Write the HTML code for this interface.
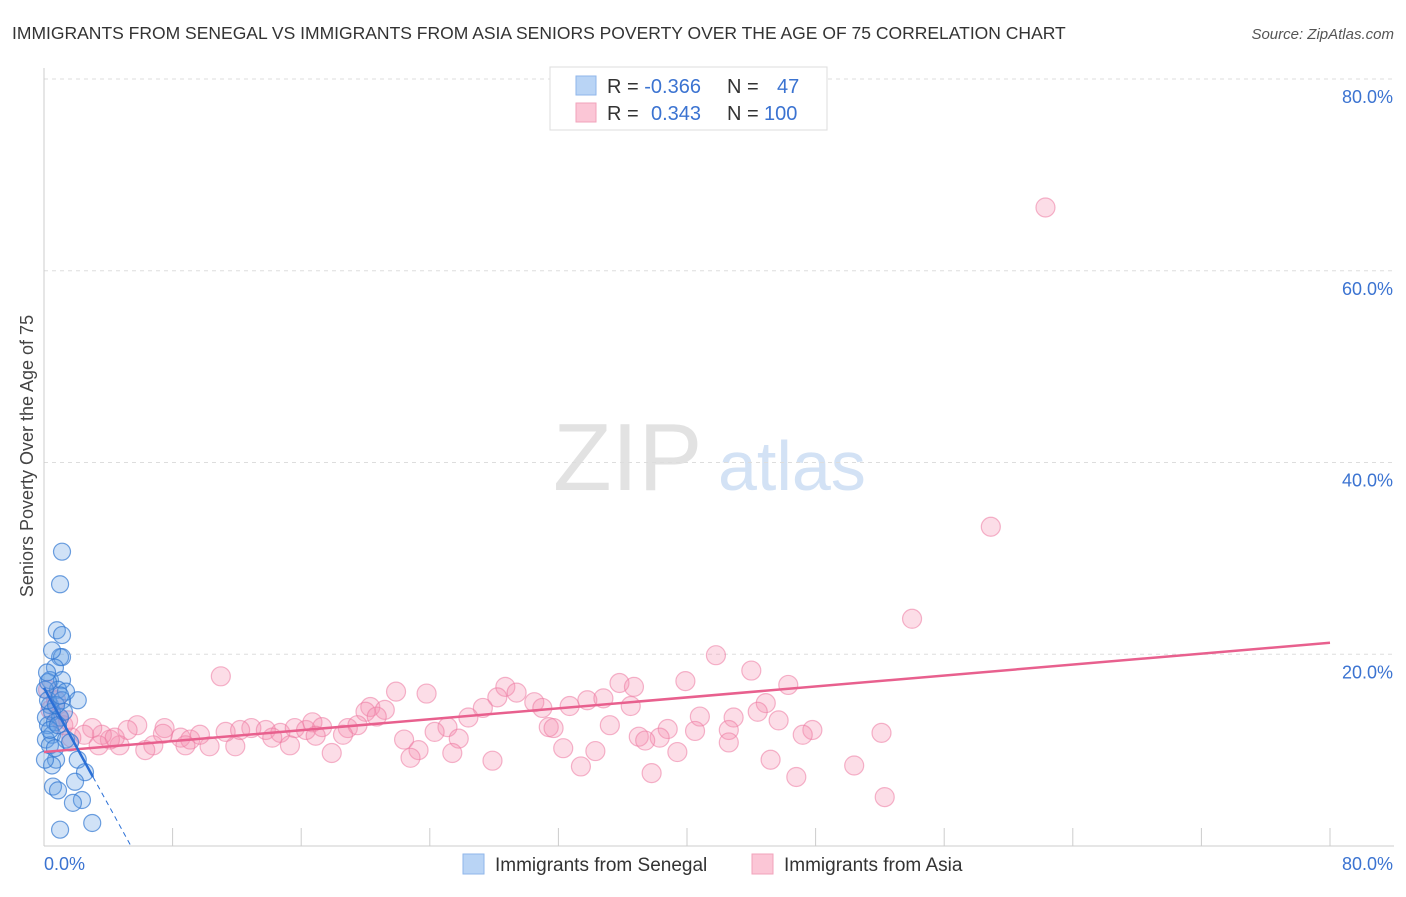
<!DOCTYPE html>
<html><head><meta charset="utf-8"><style>
body{margin:0;background:#fff;font-family:"Liberation Sans",sans-serif}
svg text{font-family:"Liberation Sans",sans-serif}
</style></head><body>
<svg id="chart" width="1406" height="892" xmlns="http://www.w3.org/2000/svg">
<text x="12" y="39" font-size="17.5" fill="#333">IMMIGRANTS FROM SENEGAL VS IMMIGRANTS FROM ASIA SENIORS POVERTY OVER THE AGE OF 75 CORRELATION CHART</text>
<text x="1394" y="39" font-size="15" fill="#555" text-anchor="end" font-style="italic">Source: ZipAtlas.com</text>
<g>
<text x="553" y="490" font-size="96" font-family="Liberation Serif" fill="#e2e2e2">ZIP</text>
<text x="718" y="490" font-size="70" fill="#d3e2f5">atlas</text>
</g>
<text transform="translate(33,456) rotate(-90)" font-size="18" fill="#444" text-anchor="middle">Seniors Poverty Over the Age of 75</text>
<g id="grid"></g><g id="axes"></g><g id="pts"></g><g id="trends"></g>
<g>
<rect x="550" y="67" width="277" height="63" fill="#fff" stroke="#ddd"/>
<rect x="576" y="76" width="20" height="19" fill="#b9d4f5" stroke="#8fb6ea"/>
<rect x="576" y="103" width="20" height="19" fill="#fbc6d6" stroke="#f2a3bb"/>
<text x="607" y="93" font-size="20" fill="#333">R = <tspan fill="#3b73d1">-0.366</tspan><tspan x="727">N = </tspan><tspan x="777" fill="#3b73d1">47</tspan></text>
<text x="607" y="120" font-size="20" fill="#333">R = <tspan x="651" fill="#3b73d1">0.343</tspan><tspan x="727">N = </tspan><tspan x="764" fill="#3b73d1">100</tspan></text>
</g>
<g>
<rect x="463" y="854" width="21" height="20" fill="#b9d4f5" stroke="#8fb6ea"/>
<text x="495" y="871" font-size="19" fill="#333">Immigrants from Senegal</text>
<rect x="752" y="854" width="21" height="20" fill="#fbc6d6" stroke="#f2a3bb"/>
<text x="784" y="871" font-size="19" fill="#333">Immigrants from Asia</text>
</g>
</svg>
<script>
const yTicks=[20,40,60,80];
const xTickLabels=["0.0%","80.0%"];
const blueX=[1.12,1.0,0.8,1.12,1.0,1.12,0.5,0.68,0.37,1.12,0.87,1.37,2.1,0.37,0.5,0.12,1.0,0.25,0.68,0.5,1.37,1.62,0.75,2.1,0.5,2.55,0.56,0.87,1.93,2.36,1.8,1.0,3.0,0.06,0.25,0.12,0.37,1.12,0.37,0.87,0.06,0.68,0.25,1.24,0.75,1.0,0.19];
const blueY=[30.7,27.3,22.5,22.0,19.7,19.7,20.4,18.6,17.3,17.3,16.3,16.1,15.2,14.7,14.0,13.4,13.4,12.6,12.9,11.6,11.1,10.8,9.0,9.0,8.4,7.7,6.2,5.8,6.7,4.8,4.5,1.7,2.4,16.3,15.2,11.1,10.5,15.2,12.1,12.6,9.0,10.2,17.1,14.0,14.7,15.7,18.1];
const pinkX=[62.3,58.9,54.0,41.8,11.0,44.0,39.9,46.3,35.8,36.7,21.9,23.8,28.7,28.2,29.4,30.5,33.8,34.8,31.0,36.5,32.7,44.9,27.3,20.3,20.0,21.2,44.4,26.4,40.8,42.9,45.7,35.2,38.8,37.0,42.6,47.8,47.2,52.1,40.5,25.1,24.3,25.8,31.4,31.7,38.3,37.4,42.6,32.3,34.3,39.4,22.4,23.3,25.4,22.8,17.9,27.9,45.2,33.4,37.8,46.8,50.4,52.3,5.8,5.2,7.5,8.5,7.4,9.1,8.8,10.3,11.9,11.3,12.9,13.8,14.7,15.6,16.3,16.7,17.3,18.9,19.5,20.7,18.6,15.3,16.9,6.8,6.3,4.7,4.1,3.6,3.0,2.5,1.7,1.2,0.9,1.5,3.4,4.4,9.7,14.2,12.2,0.4,0.75,0.25];
const pinkY=[66.6,33.3,23.7,19.9,17.7,18.3,17.2,16.8,17.0,16.6,16.1,15.9,16.6,15.5,16.0,15.0,15.2,15.4,14.4,14.6,14.6,14.9,14.4,14.5,14.0,14.2,14.0,13.4,13.5,13.4,13.1,12.6,12.2,11.4,12.1,12.1,11.6,11.8,12.0,12.4,11.9,11.2,12.4,12.3,11.3,11.0,10.8,10.2,9.9,9.8,11.1,10.0,9.7,9.2,9.7,8.9,9.0,8.3,7.6,7.2,8.4,5.1,12.6,12.1,12.3,11.3,11.7,11.1,10.5,10.4,10.4,11.9,12.3,12.1,11.8,12.3,12.1,12.9,12.4,12.3,12.6,13.5,11.6,10.5,11.5,10.5,10.0,10.5,11.1,11.6,12.3,11.6,11.3,12.6,13.4,13.1,10.5,11.3,11.6,11.3,12.1,14.2,15.2,16.3];
const blueTrend=[16.5,-3.05];
const pinkTrend=[9.8,21.2];
const NS="http://www.w3.org/2000/svg";
const X0=44,X1=1330,Y0=846,Y1=79;
const sx=v=>X0+v/80*(X1-X0);
const sy=v=>Y0-v/80*(Y0-Y1);
function mk(tag,attrs,parent){const e=document.createElementNS(NS,tag);for(const k in attrs)e.setAttribute(k,attrs[k]);document.getElementById(parent).appendChild(e);return e;}
yTicks.forEach(t=>{
 const l=mk('line',{x1:X0,x2:1394,y1:sy(t),y2:sy(t),stroke:'#ddd','stroke-dasharray':'4,4'},'grid');
 
 
 const tx=mk('text',{x:1393,y:sy(t)+24,'font-size':18,fill:'#3b73d1','text-anchor':'end'},'grid');
 tx.textContent=t.toFixed(1)+'%';
 
 
});
const ax=mk('line',{x1:X0,x2:X0,y1:68,y2:Y0,stroke:'#ccc'},'axes');


const bx=mk('line',{x1:X0,x2:1394,y1:Y0,y2:Y0,stroke:'#ccc'},'axes');


for(let i=1;i<=10;i++){const v=i*8;
 const t=mk('line',{x1:sx(v),x2:sx(v),y1:Y0-18,y2:Y0,stroke:'#ccc'},'axes');
 
 }
const xl0=mk('text',{x:44,y:870,'font-size':18,fill:'#3b73d1'},'axes');xl0.textContent=xTickLabels[0];


const xl1=mk('text',{x:1393,y:870,'font-size':18,fill:'#3b73d1','text-anchor':'end'},'axes');xl1.textContent=xTickLabels[1];


pinkX.forEach((x,i)=>{
 const c=mk('circle',{cx:sx(x),cy:sy(pinkY[i]),r:9.5,fill:'rgba(244,143,177,0.3)',stroke:'rgba(236,120,160,0.55)','stroke-width':1.2},'pts');
 
 
});
blueX.forEach((x,i)=>{
 const c=mk('circle',{cx:sx(x),cy:sy(blueY[i]),r:8.5,fill:'rgba(100,160,230,0.3)',stroke:'rgba(50,120,210,0.7)','stroke-width':1.2},'pts');
 
 
});
const pl=mk('line',{x1:sx(0),y1:sy(pinkTrend[0]),x2:sx(80),y2:sy(pinkTrend[1]),stroke:'#e8608e','stroke-width':2.5},'trends');


const bEnd=3.05, bZero=-blueTrend[0]/blueTrend[1];
const bl=mk('line',{x1:sx(0),y1:sy(blueTrend[0]),x2:sx(bEnd),y2:sy(blueTrend[0]+blueTrend[1]*bEnd),stroke:'#2a6fd6','stroke-width':2.5},'trends');


const bd=mk('line',{x1:sx(bEnd),y1:sy(blueTrend[0]+blueTrend[1]*bEnd),x2:sx(bZero),y2:sy(0),stroke:'#2a6fd6','stroke-width':1,'stroke-dasharray':'5,4'},'trends');


</script>
</body></html>
